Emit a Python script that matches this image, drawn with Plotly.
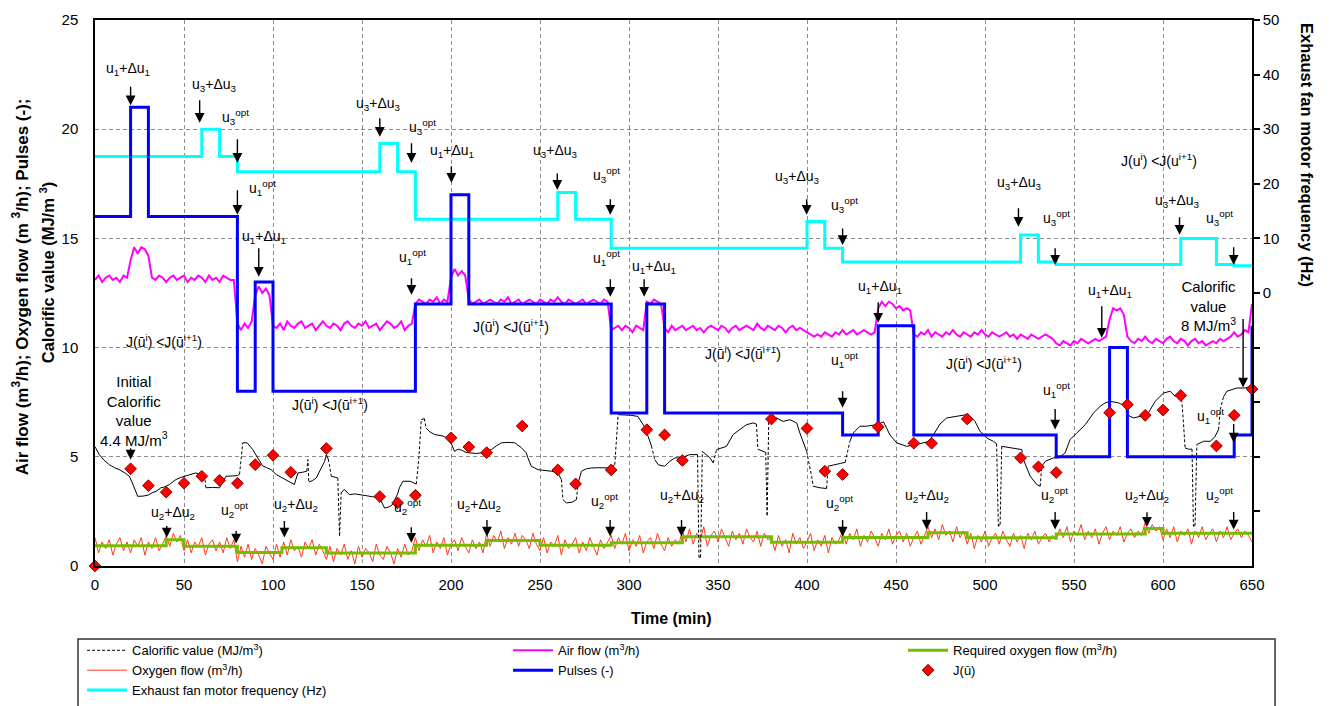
import plotly.graph_objects as go

FONT = "Liberation Sans, Arial, sans-serif"
NARROW = "Liberation Sans Narrow, Arial Narrow, Liberation Sans, Arial, sans-serif"

# ---------------- data ----------------
# Pulses (-): value holds from each time until the next one (min)
pulse_t = [0, 20, 30, 80, 90, 100, 180, 200, 210, 290, 310, 320, 420, 440, 460, 540, 570, 580, 640, 650]
pulse_v = [16, 21, 16, 8, 13, 8, 12, 17, 12, 7, 12, 7, 6, 11, 6, 5, 10, 5, 6, 11]

# Exhaust fan motor frequency (Hz), right axis
fan_t = [0, 60, 70, 80, 160, 170, 180, 260, 270, 290, 400, 410, 420, 520, 530, 540, 610, 630, 640, 650]
fan_hz = [25, 30, 25, 22.2, 27.4, 22.2, 13.5, 18.4, 13.5, 8.2, 13.1, 8.2, 5.7, 10.6, 5.7, 5.2, 10.0, 5.2, 5.0, 5.0]

# Required oxygen flow (m3/h)
o2_req_t = [0, 40, 50, 80, 105, 130, 180, 220, 250, 290, 330, 380, 420, 468, 490, 540, 590, 600, 650]
o2_req_v = [0.93, 1.2, 0.9, 0.62, 0.83, 0.6, 0.95, 1.17, 0.95, 1.06, 1.34, 1.09, 1.3, 1.52, 1.29, 1.47, 1.72, 1.5, 1.5]

# Logged flows, one reading every 2 min from 0 to 650 min
log_t = list(range(0, 651, 2))

oxygen_flow = [
    1.3, 0.6, 1.1, 0.8, 1.2, 0.5, 1.0, 1.3, 0.7, 1.1,
    0.6, 1.2, 0.9, 1.3, 0.5, 1.1, 0.8, 1.3, 0.7, 1.0,
    1.4, 0.9, 1.5, 1.1, 1.4,
    0.7, 1.2, 0.6, 1.1, 0.9, 1.3, 0.5, 1.0, 1.2, 0.7, 1.1, 0.6, 1.3, 0.8, 1.2,
    0.2, 0.9, 0.4, 1.0, 0.3, 0.8, 0.5, 0.1, 0.9, 0.6, 0.3, 1.0, 0.4,
    1.1, 0.5, 1.2, 0.7, 0.9, 0.4, 1.1, 0.8, 1.2, 0.5, 1.0, 0.7,
    0.3, 0.9, 0.2, 0.8, 0.5, 1.0, 0.3, 0.7, 0.1, 0.9, 0.4, 0.8, 0.6, 0.2, 1.0, 0.5, 0.3, 0.9, 0.6, 0.1, 0.8, 0.4, 1.0, 0.5, 0.7,
    1.3, 0.7, 1.2, 0.9, 1.4, 0.6, 1.1, 0.8, 1.3, 0.5, 1.0, 1.2, 0.7, 1.3, 0.9, 0.6, 1.2, 0.8, 1.1, 0.6,
    1.5, 0.9, 1.4, 1.1, 1.6, 0.8, 1.3, 1.0, 1.5, 0.9, 1.4, 1.2, 0.8, 1.5, 1.0,
    0.7, 1.3, 0.6, 1.1, 0.9, 1.4, 0.5, 1.2, 0.8, 1.0, 1.3, 0.6, 1.1, 0.7, 1.3, 0.9, 0.5, 1.2, 0.8, 1.1,
    1.4, 0.8, 1.3, 1.0, 1.5, 0.7, 1.2, 0.9, 1.4, 0.6, 1.1, 1.3, 0.8, 1.5, 1.0, 0.7, 1.3, 0.9, 1.2, 1.0,
    1.6, 1.1, 1.7, 1.0, 1.5, 1.2, 1.8, 0.9, 1.4, 1.6, 1.1, 1.7, 1.3, 0.9, 1.6, 1.2, 1.5, 1.0, 1.7, 1.3, 1.1, 1.6, 0.9, 1.5, 1.2,
    1.3, 0.7, 1.4, 0.9, 1.2, 0.6, 1.5, 1.0, 1.3, 0.8, 1.1, 1.5, 0.7, 1.2, 0.9, 1.4, 0.6, 1.3, 1.0, 1.2,
    1.6, 1.0, 1.5, 1.2, 1.7, 0.9, 1.4, 1.1, 1.6, 1.3, 0.9, 1.5, 1.2, 1.7, 1.0, 1.4, 1.6, 1.1, 1.5, 0.9, 1.3, 1.6, 1.0, 1.4,
    1.8, 1.3, 1.7, 1.2, 1.9, 1.4, 1.6, 1.1, 1.8, 1.3, 1.6,
    1.0, 1.5, 0.8, 1.4, 1.1, 1.6, 0.9, 1.3, 1.5, 1.0, 1.6, 1.2, 0.9, 1.5, 1.1, 1.4, 0.8, 1.5, 1.2, 1.6, 1.0, 1.3, 1.5, 1.1, 1.4,
    1.2, 1.7, 1.3, 1.8, 1.1, 1.6, 1.4, 1.9, 1.2, 1.6, 1.3, 1.7, 1.0, 1.5, 1.8, 1.2, 1.6, 1.4, 1.8, 1.1, 1.5, 1.7, 1.3, 1.6, 1.4,
    2.0, 1.5, 1.9, 1.6, 1.8,
    1.2, 1.7, 1.3, 1.8, 1.1, 1.6, 1.4, 1.7, 1.0, 1.6, 1.3, 1.8, 1.2, 1.5, 1.7, 1.1, 1.6, 1.3, 1.8, 1.2, 1.5, 1.7, 1.3, 1.6, 1.4, 1.1,
]

air_flow = [
    13.1, 13.3, 13.0, 13.2, 13.3, 13.1, 13.2, 13.0, 13.3, 13.2,
    14.0, 14.6, 14.3, 14.6, 14.5, 14.2,
    13.2, 13.1, 13.3, 13.2, 13.0, 13.2, 13.3, 13.1, 13.2, 13.3, 13.0, 13.2,
    13.1, 13.3, 13.2, 13.0, 13.3, 13.1, 13.2, 13.0, 13.3, 13.2, 13.1, 13.1,
    11.1, 10.8, 11.1, 10.9, 11.2,
    12.4, 12.8, 12.5, 12.7, 12.4,
    11.0, 10.9, 11.1, 10.8, 11.2, 11.0, 10.9, 11.1, 11.2, 10.9,
    11.0, 11.1, 10.8, 11.0, 11.2, 11.0, 10.9, 11.1, 11.0, 10.8,
    11.1, 11.2, 11.0, 10.9, 11.1, 11.0, 11.2, 10.9, 11.0, 11.1,
    10.8, 11.0, 11.2, 11.1, 10.9, 11.0, 11.2, 10.8, 11.0, 11.1,
    12.0, 12.2, 12.1, 12.0, 12.2, 12.1, 12.3, 12.0, 12.2, 12.1,
    13.2, 13.6, 13.3, 13.5, 13.3,
    12.2, 12.0, 12.1, 12.2, 12.0, 12.1, 12.2, 12.1, 12.0, 12.2,
    12.1, 12.3, 12.0, 12.1, 12.2, 12.0, 12.1, 12.2, 12.1, 12.0,
    12.2, 12.1, 12.0, 12.2, 12.1, 12.3, 12.1, 12.0, 12.2, 12.1,
    12.0, 12.1, 12.2, 12.0, 12.1, 12.2, 12.1, 12.0, 12.2, 12.1,
    10.8, 10.9, 11.0, 10.8, 11.0, 10.9, 10.7, 11.0, 10.9, 10.8,
    12.1, 12.0, 12.2, 12.1, 12.0,
    10.9, 10.7, 11.0, 10.8, 10.9, 11.0, 10.8, 10.9, 11.0, 10.8,
    10.9, 10.7, 10.9, 11.0, 10.9, 10.8, 11.0, 10.9, 10.7, 10.9,
    11.0, 10.8, 10.9, 11.0, 10.9, 10.8, 11.1, 10.9, 10.8, 11.0,
    10.9, 10.8, 11.0, 10.9, 10.7, 10.9, 11.0, 10.8, 10.9, 10.8,
    10.7, 10.6, 10.5, 10.6, 10.5, 10.7, 10.6, 10.5, 10.7, 10.6,
    10.8, 10.6, 10.7, 10.8, 10.6, 10.7, 10.8, 10.7, 10.6, 10.7,
    11.8, 12.1, 11.9, 12.1, 12.0, 11.8, 11.9, 11.7, 11.8, 11.7,
    10.6, 10.5, 10.7, 10.6, 10.8, 10.5, 10.7, 10.6, 10.5, 10.7,
    10.6, 10.8, 10.6, 10.5, 10.7, 10.6, 10.5, 10.7, 10.6, 10.8,
    10.6, 10.5, 10.7, 10.6, 10.5, 10.6, 10.7, 10.5, 10.6, 10.4,
    10.6, 10.5, 10.4, 10.6, 10.5, 10.4, 10.5, 10.6, 10.5, 10.4,
    10.2, 10.1, 10.3, 10.2, 10.1, 10.3, 10.2, 10.4, 10.3, 10.2, 10.3, 10.4, 10.3, 10.4, 10.5,
    11.3, 11.8, 11.7, 11.8, 11.5,
    10.5, 10.3, 10.2, 10.4, 10.3, 10.5, 10.3, 10.2, 10.4, 10.3,
    10.2, 10.4, 10.5, 10.3, 10.2, 10.4, 10.3, 10.1, 10.3, 10.4,
    10.2, 10.3, 10.1, 10.2, 10.3, 10.2, 10.4, 10.3, 10.4, 10.5,
    10.7, 10.5, 10.6, 10.8, 10.7, 12.0,
]

# Calorific value of the gas (MJ/m3)
cal_t = [0, 2.4, 5, 8, 11, 13.7, 17, 19.3, 21, 22.5, 24, 27, 30, 32, 34.3, 37, 39, 41.8, 43, 45.5,
         48, 50, 53, 56.5, 59, 61.5, 62.3, 66, 70, 71, 73.6, 77, 80, 81.2, 83, 85.5, 88.6, 91.4, 94.2, 96.5,
         99, 101.8, 105, 109.3, 112, 113, 114, 117, 119, 119.6, 120.1, 122, 124.3, 127, 129, 130, 131, 131.7, 132.7, 136.4,
         137.4, 138.3, 140, 143, 146, 150, 153, 156, 158, 160, 162.7, 165, 167, 170, 171, 173, 177, 180.5, 182, 183.3,
         185, 186, 188, 190.8, 193, 195.5, 199.2, 202, 204, 206, 208.5, 211.4, 214, 217, 220, 222.7, 225.5, 228.3, 232, 235.8,
         239.5, 242.3, 243.2, 245.1, 248.9, 252, 256.4, 260, 262, 262.9, 264.8, 268, 270.5, 271.4, 273.3, 276, 279, 283, 286.4, 290,
         292, 293.9, 297.5, 301, 305, 307, 308.5, 310.7, 312.6, 314.5, 316.4, 318, 320.1, 323, 325.8, 328.5, 331, 334.1, 336.9, 338.5,
         339.3, 340.2, 341.2, 343.5, 345.5, 347.3, 349.2, 352, 354.8, 358.5, 362.3, 366, 369.8, 371.6, 372.4, 375.4, 376.8, 377.6, 378.5, 380,
         382.8, 386.6, 390.4, 394.2, 396, 397.9, 399.8, 401, 402.6, 403.5, 407.3, 411, 411.9, 416.6, 419, 421.5, 424.1, 426, 429.8, 433.5,
         437.3, 440, 443, 446.6, 450.4, 455.9, 461.6, 465.3, 468.2, 471, 474.7, 478.5, 484.1, 489.7, 491.6, 494.4, 497.2, 501, 504.7, 506.5,
         507.5, 508.5, 509.4, 514.1, 520.7, 521.6, 525.4, 529.1, 531, 531.9, 534, 538.5, 541.3, 545, 547.8, 551.6, 556.3, 561, 564.7, 567.5,
         570.3, 575, 578.8, 579.7, 583.4, 587.2, 591.8, 595.6, 600.3, 604, 606.9, 609.7, 610.6, 611.5, 612.4, 614.3, 616.3, 617.1, 618, 619,
         622.8, 626.5, 629, 631.2, 632.2, 634, 635.9, 641.5, 646.2, 649, 650]
cal_v = [5.46, 5.1, 4.85, 4.64, 4.5, 4.41, 4.25, 4.11, 3.8, 3.45, 3.19, 3.2, 3.25, 3.35, 3.42, 3.58, 3.62, 3.73, 3.8, 3.96,
         4.05, 4.1, 4.19, 4.26, 4.2, 4.18, 3.58, 3.6, 3.58, 3.73, 4.11, 4.12, 4.14, 4.2, 5.64, 5.64, 5.33, 4.95, 4.58, 4.5,
         4.41, 4.19, 4.05, 3.88, 3.73, 4.0, 4.26, 4.3, 4.34, 4.87, 3.85, 3.9, 4.03, 4.5, 4.79, 5.1, 4.9, 4.64, 4.11, 4.03,
         1.36, 3.35, 3.5, 3.27, 3.3, 3.25, 3.2, 3.17, 3.17, 3.1, 2.65, 2.7, 2.8, 3.3, 3.58, 3.88, 3.88, 3.75, 5.0, 6.7,
         6.75, 6.32, 6.15, 6.02, 5.98, 5.95, 5.79, 5.25, 5.35, 5.3, 5.2, 5.18, 5.15, 5.18, 5.25, 5.33, 5.5, 5.64, 5.66, 5.64,
         5.42, 5.18, 4.95, 4.57, 4.41, 4.38, 4.34, 4.26, 3.96, 3.04, 2.89, 2.92, 3.04, 3.8, 4.34, 4.45, 4.49, 4.5, 4.49, 4.49,
         4.64, 6.93, 6.93, 6.9, 6.85, 6.6, 6.4, 5.94, 5.5, 4.87, 4.64, 4.6, 4.57, 4.8, 4.95, 4.95, 5.0, 5.1, 5.12, 5.1,
         0.4, 0.4, 5.25, 5.1, 4.95, 4.72, 5.33, 5.4, 5.48, 6.02, 6.24, 6.47, 6.55, 6.5, 5.35, 5.25, 5.2, 2.28, 6.6, 6.72,
         6.78, 6.62, 6.7, 6.55, 6.09, 5.64, 5.25, 4.8, 4.11, 3.65, 3.58, 3.55, 4.57, 4.64, 4.7, 4.75, 5.71, 6.09, 6.4, 6.4,
         6.45, 6.5, 6.6, 6.0, 5.64, 5.48, 5.56, 5.62, 5.7, 6.0, 6.5, 6.78, 6.85, 6.93, 6.85, 6.62, 6.17, 5.86, 5.71, 5.6,
         1.82, 1.9, 5.48, 5.41, 5.33, 4.87, 4.11, 3.73, 3.65, 4.57, 4.8, 4.95, 4.95, 5.18, 5.79, 6.09, 6.47, 7.01, 7.31, 7.47,
         7.54, 7.47, 7.31, 6.93, 6.78, 6.85, 7.01, 7.54, 7.92, 8.0, 7.77, 7.85, 7.54, 6.55, 5.41, 5.35, 5.35, 1.82, 1.85, 5.56,
         5.71, 5.71, 5.9, 6.24, 7.16, 7.75, 8.0, 8.15, 8.15, 8.22, 8.2]

# Objective function J(u) evaluated at each test point
j_t = [0, 20, 30, 40, 50, 60, 70, 80, 90, 100, 110, 130, 160, 170, 180, 200, 210, 220, 240, 260, 270, 290,
       310, 320, 330, 380, 400, 410, 420, 440, 460, 470, 490, 520, 530, 540, 570, 580, 590, 600, 610, 630, 640, 650]
j_v = [0, 4.45, 3.68, 3.38, 3.79, 4.11, 3.92, 3.79, 4.64, 5.07, 4.29, 5.38, 3.18, 2.89, 3.24, 5.87, 5.45, 5.19, 6.41, 4.40, 3.76, 4.40,
       6.24, 6.0, 4.83, 6.73, 6.30, 4.34, 4.19, 6.37, 5.62, 5.62, 6.73, 4.95, 4.54, 4.28, 7.02, 7.39, 6.90, 7.14, 7.81, 5.50, 6.90, 8.1]

# ---------------- annotation text ----------------
U1D = "u<sub>1</sub>+Δu<sub>1</sub>"
U2D = "u<sub>2</sub>+Δu<sub>2</sub>"
U3D = "u<sub>3</sub>+Δu<sub>3</sub>"
U1O = "u<sub>1</sub><sup>opt</sup>"
U2O = "u<sub>2</sub><sup>opt</sup>"
U3O = "u<sub>3</sub><sup>opt</sup>"
JBAR = "J(ū<sup>i</sup>) &lt;J(ū<sup>i+1</sup>)"
JTOP = "J(u<sup>i</sup>) &lt;J(u<sup>i+1</sup>)"

# labels: (time, left-axis value, text)
labels = [
    (18.4, 22.76, U1D), (67.1, 22.03, U3D), (78.9, 20.56, U3O), (94.1, 17.31, U1O), (95.2, 15.07, U1D),
    (159.3, 21.16, U3D), (184.0, 20.1, U3O), (200.3, 19.0, U1D), (178.4, 14.16, U1O), (258.8, 19.0, U3D),
    (287.3, 17.91, U3O), (287.3, 14.11, U1O), (314.1, 13.70, U1D), (394.9, 17.82, U3D), (420.9, 16.54, U3O),
    (441.0, 12.79, U1D), (420.9, 9.45, U1O), (519.2, 17.54, U3D), (540.3, 15.94, U3O), (608.0, 16.73, U3D),
    (631.6, 15.94, U3O), (570.3, 12.6, U1D), (540.3, 8.07, U1O), (626.5, 6.85, U1O),
    (43.6, 2.43, U2D), (78.3, 2.58, U2O), (113.0, 2.81, U2D), (175.6, 2.68, U2O), (215.5, 2.81, U2D),
    (286.4, 2.96, U2O), (329.5, 3.19, U2D), (418.5, 2.90, U2O), (467.6, 3.19, U2D), (539.0, 3.27, U2O),
    (591.0, 3.19, U2D), (631.8, 3.27, U2O),
    (39.0, 10.32, JBAR), (132.3, 7.43, JBAR), (233.5, 11.0, JBAR), (364.0, 9.77, JBAR), (499.4, 9.31, JBAR),
    (597.5, 18.6, JTOP),
]
# notes in larger print: (time, value, text)
notes = [
    (22.1, 7.11, "Initial<br>Calorific<br>value<br>4.4 MJ/m<sup>3</sup>"),
    (625.4, 11.9, "Calorific<br>value<br>8 MJ/m<sup>3</sup>"),
]
# arrows: (time, value at the tip, length in px)
arrows = [
    (20, 21.1, 20), (58.8, 20.29, 24), (80, 18.46, 25), (80, 16.08, 26), (92, 13.24, 30),
    (160, 19.65, 20), (177.8, 18.46, 21), (200.2, 17.55, 18), (177.8, 12.42, 18), (259.7, 17.22, 18),
    (289.5, 16.08, 17), (289.5, 12.33, 19), (308.5, 12.33, 19), (399.8, 16.08, 17), (420, 14.7, 18),
    (440, 11.14, 22), (420, 7.25, 18), (518.8, 15.53, 20), (539.4, 13.79, 18), (609.3, 15.17, 19),
    (639.7, 13.79, 19), (565.6, 10.45, 33), (645, 8.17, 70), (539.4, 6.25, 22), (639.7, 5.65, 20),
    (20, 4.87, 13),
    (40.3, 1.3, 13), (79.3, 1.03, 14), (106.4, 1.3, 18), (177.7, 1.06, 17), (220.2, 1.35, 18),
    (289.4, 1.35, 18), (329.5, 1.35, 18), (420, 1.35, 18), (467.2, 1.67, 19), (539.4, 1.67, 19),
    (591, 1.8, 16), (639.7, 1.67, 19),
]

# ---------------- calorific line: steep jumps drawn dashed ----------------
STEEP = 0.32  # MJ/m3 per min
solid_x, solid_y, dash_x, dash_y = [], [], [], []
for i in range(len(cal_t) - 1):
    x0, x1, y0, y1 = cal_t[i], cal_t[i + 1], cal_v[i], cal_v[i + 1]
    steep = abs(y1 - y0) / (x1 - x0) > STEEP
    xs, ys = (dash_x, dash_y) if steep else (solid_x, solid_y)
    if xs and xs[-1] == x0 and ys[-1] == y0:
        xs.append(x1)
        ys.append(y1)
    else:
        if xs:
            xs.append(None)
            ys.append(None)
        xs.extend([x0, x1])
        ys.extend([y0, y1])

fig = go.Figure()

fig.add_trace(go.Scatter(x=log_t, y=oxygen_flow, mode="lines", name="Oxygen flow (m<sup>3</sup>/h)",
                         line=dict(color="#ff3a1a", width=1), legend="legend", legendrank=2,
                         legendgroup="o2"))
fig.add_trace(go.Scatter(x=o2_req_t, y=o2_req_v, mode="lines", line_shape="hv",
                         name="Required oxygen flow (m<sup>3</sup>/h)",
                         line=dict(color="#77bb00", width=3), legend="legend3", legendrank=1,
                         legendgroup="req"))
fig.add_trace(go.Scatter(x=log_t, y=air_flow, mode="lines", name="Air flow (m<sup>3</sup>/h)",
                         line=dict(color="#ff00ff", width=2), legend="legend2", legendrank=1,
                         legendgroup="air"))
fig.add_trace(go.Scatter(x=solid_x, y=solid_y, mode="lines", showlegend=False,
                         line=dict(color="black", width=1)))
fig.add_trace(go.Scatter(x=dash_x, y=dash_y, mode="lines", name="Calorific value (MJ/m<sup>3</sup>)",
                         line=dict(color="black", width=1, dash="3px,2px"), legend="legend", legendrank=1,
                         legendgroup="cal"))
fig.add_trace(go.Scatter(x=fan_t, y=fan_hz, mode="lines", line_shape="hv", yaxis="y2",
                         name="Exhaust fan motor frequency (Hz)",
                         line=dict(color="#00ffff", width=3), legend="legend", legendrank=3,
                         legendgroup="fan"))
fig.add_trace(go.Scatter(x=pulse_t, y=pulse_v, mode="lines", line_shape="hv", yaxis="y3",
                         name="Pulses (-)", line=dict(color="#0000ff", width=3),
                         legend="legend2", legendrank=2, legendgroup="pulse"))
fig.add_trace(go.Scatter(x=j_t, y=j_v, mode="markers", yaxis="y3", name="J(ū)", cliponaxis=False,
                         marker=dict(symbol="diamond", size=9, color="#ff0000",
                                     line=dict(color="#8b0000", width=1)),
                         legend="legend3", legendrank=2, legendgroup="j"))

annotations = []
for t, v, txt in labels:
    annotations.append(dict(x=t, y=v, xref="x", yref="y", text=txt, showarrow=False,
                            font=dict(size=14, family=FONT, color="black")))
for t, v, txt in notes:
    annotations.append(dict(x=t, y=v, xref="x", yref="y", text=txt, showarrow=False,
                            font=dict(size=15, family=FONT, color="black")))
for t, v, length in arrows:
    annotations.append(dict(x=t, y=v, xref="x", yref="y", ax=0, ay=-length, text="",
                            showarrow=True, arrowhead=2, arrowsize=1.4,
                            arrowwidth=1.4, arrowcolor="black", standoff=0))

TITLE_FONT = dict(size=17, family=FONT, color="black")
annotations += [
    dict(xref="paper", yref="paper", x=-0.0645, y=0.511, xanchor="center", yanchor="middle",
         textangle=-90, showarrow=False,
         text="<b>Air flow (m<sup>3</sup>/h); Oxygen flow (m <sup>3</sup>/h); Pulses (-);</b>", font=TITLE_FONT),
    dict(xref="paper", yref="paper", x=-0.0415, y=0.538, xanchor="center", yanchor="middle",
         textangle=-90, showarrow=False,
         text="<b>Calorific value (MJ/m <sup>3</sup>)</b>", font=dict(size=16.5, family=FONT, color="black")),
    dict(xref="paper", yref="paper", x=1.0475, y=0.7527, xanchor="center", yanchor="middle",
         textangle=90, showarrow=False,
         text="<b>Exhaust fan motor frequency (Hz)</b>", font=dict(size=16.5, family=FONT, color="black")),
    dict(xref="paper", yref="paper", x=0.498, y=-0.097, xanchor="center", yanchor="middle",
         showarrow=False, text="<b>Time (min)</b>", font=dict(size=16, family=FONT, color="black")),
]

GRID = "#8c8c8c"
legend_common = dict(orientation="v", xanchor="left", yanchor="top", bgcolor="rgba(0,0,0,0)",
                     font=dict(size=13, family=NARROW, color="black"), itemwidth=40,
                     traceorder="normal", tracegroupgap=5)
LEG_Y = -0.127

fig.update_layout(
    width=1332, height=706,
    margin=dict(l=95, r=80, t=20, b=140, autoexpand=False),
    paper_bgcolor="white", plot_bgcolor="white",
    font=dict(family=FONT, size=15, color="black"),
    xaxis=dict(range=[0, 650], tick0=0, dtick=50, showgrid=True, gridcolor=GRID, gridwidth=1,
               griddash="4px,3px", showline=True, linecolor="black", linewidth=1.5, mirror=True,
               zeroline=False, ticks="", ticklabelstandoff=4, tickfont=dict(size=15)),
    yaxis=dict(range=[0, 25], tick0=0, dtick=5, showgrid=True, gridcolor=GRID, gridwidth=1,
               griddash="4px,3px", showline=True, linecolor="black", linewidth=1.5,
               zeroline=False, ticks="", ticklabelstandoff=12, tickfont=dict(size=15)),
    yaxis2=dict(overlaying="y", side="right", range=[-50, 50],
                tickvals=[-40, -30, -20, -10, 0, 10, 20, 30, 40, 50],
                ticktext=["", "", "", "", "0", "10", "20", "30", "40", "50"],
                ticks="outside", ticklen=6, tickwidth=1.5, tickcolor="black",
                showline=True, linecolor="black", linewidth=1.5, showgrid=False, zeroline=False,
                tickfont=dict(size=15)),
    yaxis3=dict(overlaying="y", range=[0, 25], visible=False),
    yaxis4=dict(overlaying="y", side="right", anchor="x", range=[-50, 50],
                tickvals=[-40, -30, -20, -10, 0, 10, 20, 30, 40, 50],
                ticks="inside", ticklen=6, tickwidth=1.5, tickcolor="black",
                showticklabels=False, showline=False, showgrid=False, zeroline=False),
    legend=dict(x=-0.0112, y=LEG_Y, **legend_common),
    legend2=dict(x=0.357, y=LEG_Y, **legend_common),
    legend3=dict(x=0.6984, y=LEG_Y, **legend_common),
    annotations=annotations,
    shapes=[dict(type="rect", xref="paper", yref="paper", x0=-0.0147, x1=1.0199, y0=-0.1337, y1=-0.30,
                 line=dict(color="#333333", width=1.5), fillcolor="rgba(0,0,0,0)", layer="above")],
    showlegend=True,
)

fig.write_html("out.html")
